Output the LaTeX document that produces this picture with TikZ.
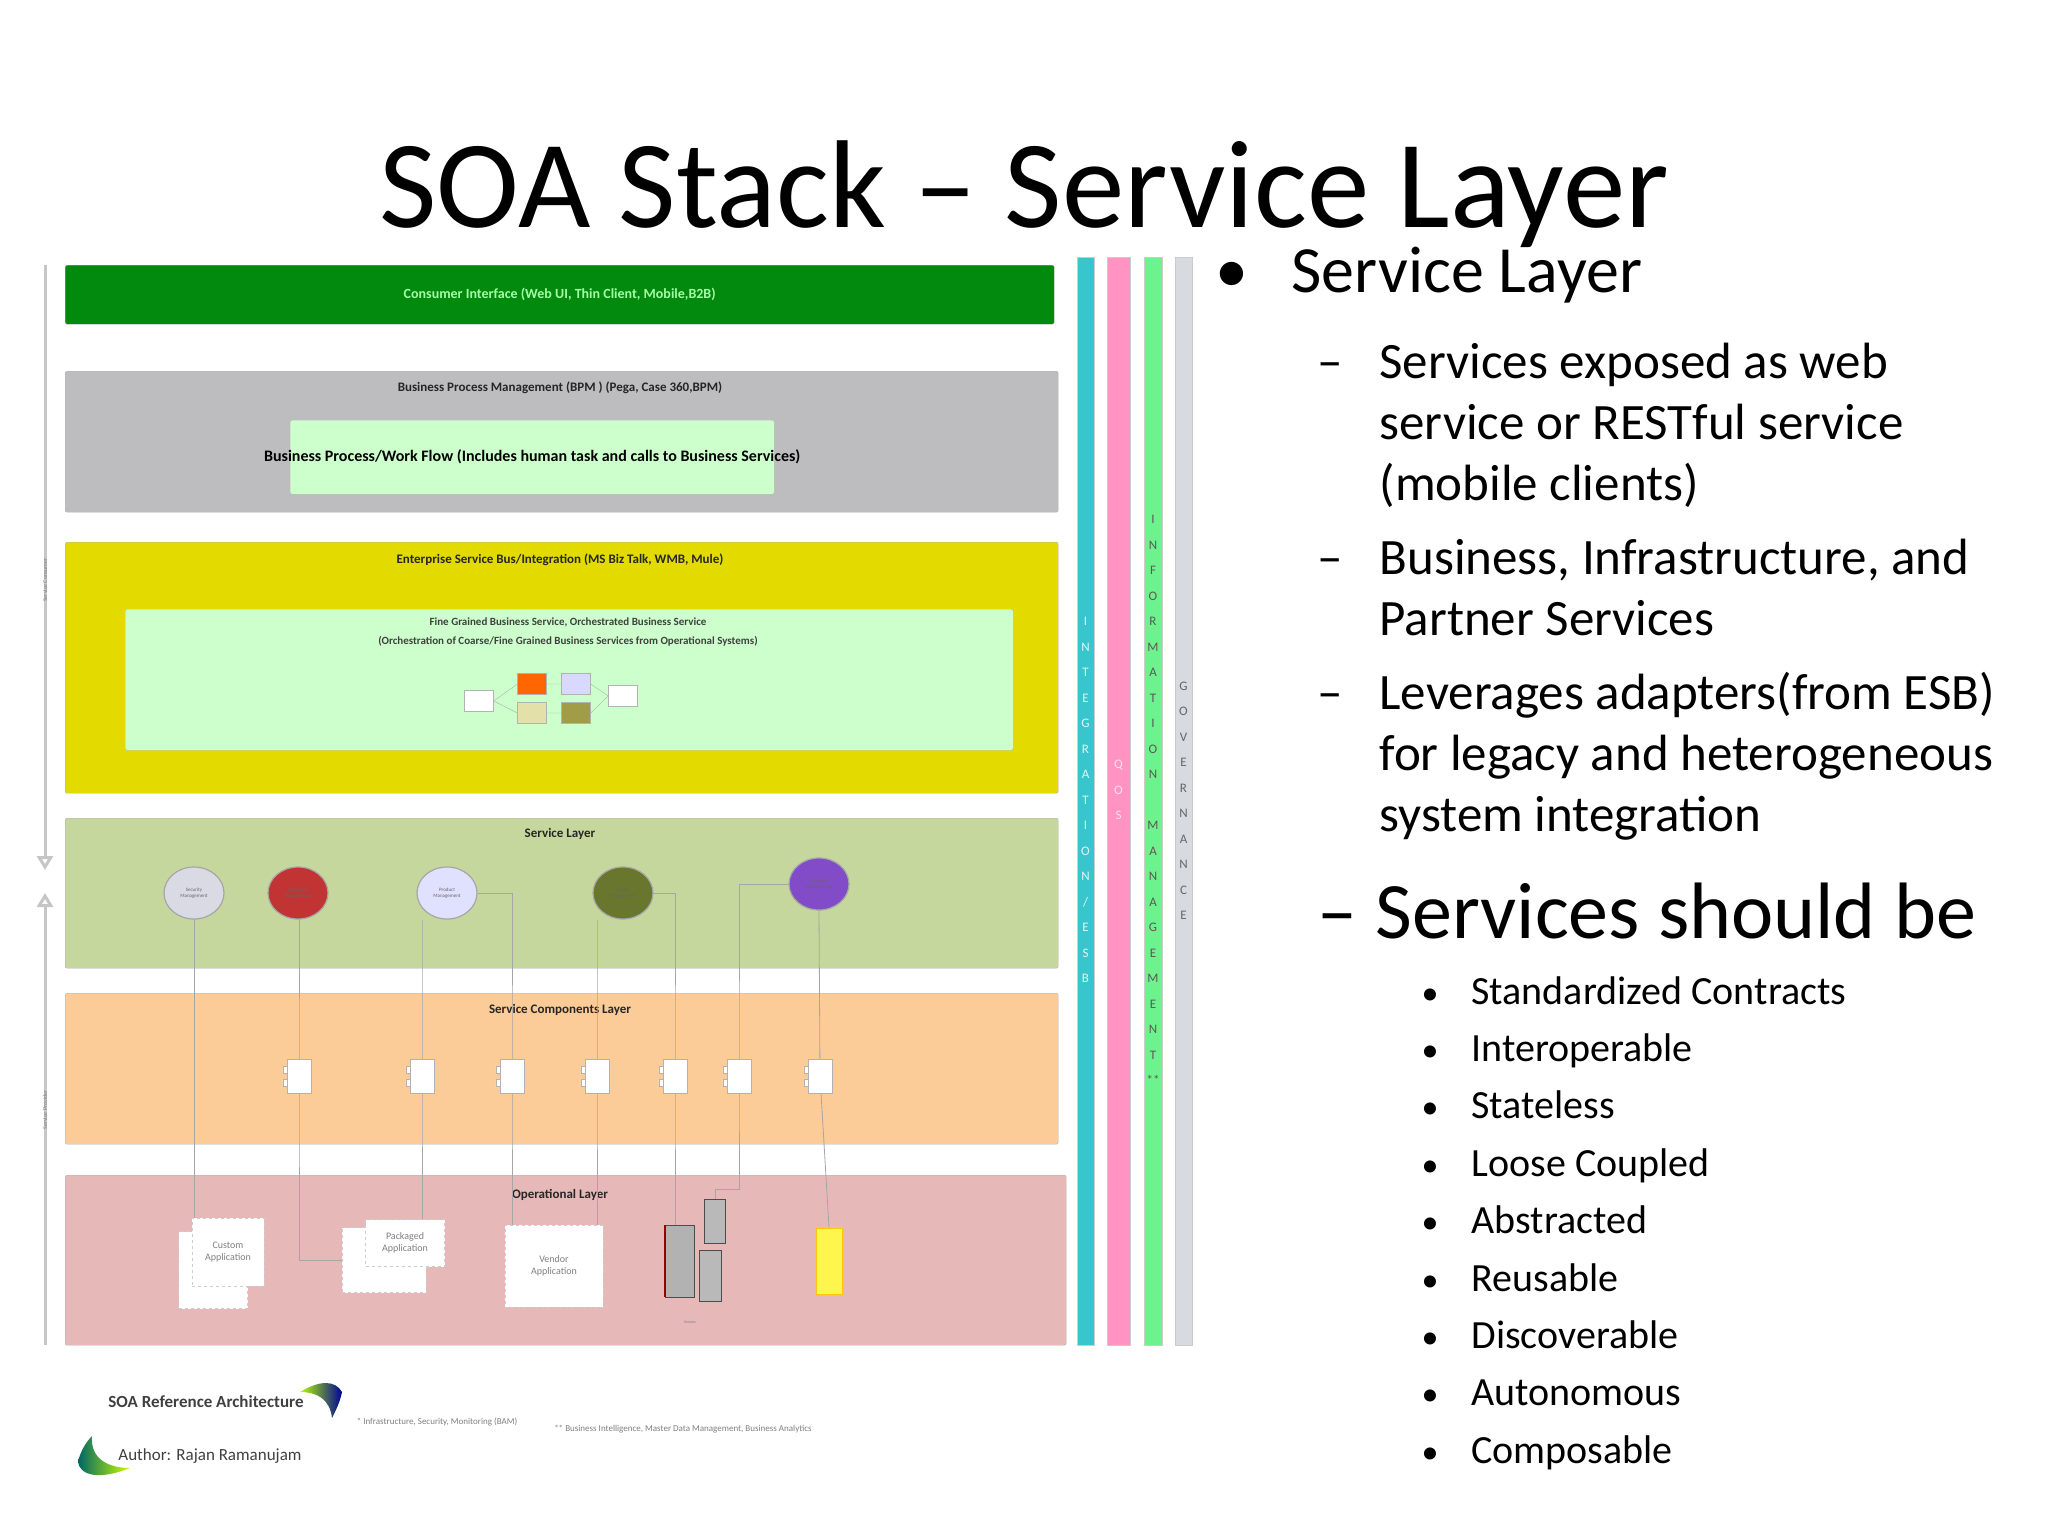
\documentclass[tikz,border=0pt]{standalone}
\usepackage{fontspec}
\setmainfont{Carlito}
\usetikzlibrary{positioning, shapes.geometric, arrows.meta}
\definecolor{ciGreen}{HTML}{028A0F}
\definecolor{bpmGray}{HTML}{BDBDBF}
\definecolor{paleGreen}{HTML}{CCFFCC}
\definecolor{esbYellow}{HTML}{E3DA00}
\definecolor{svcGreen}{HTML}{C6D79E}
\definecolor{compOrange}{HTML}{FBCB98}
\definecolor{opPink}{HTML}{E6B9B8}
\definecolor{barTeal}{HTML}{38C6CC}
\definecolor{barPink}{HTML}{FF93C2}
\definecolor{barGreen}{HTML}{6EF28E}
\definecolor{barGray}{HTML}{D9D9E0}
\tikzset{
  layer/.style={draw=gray!60, rounded corners=2pt, anchor=north west, inner sep=0pt}, % coloured band
  ttl/.style={font=\fontsize{13}{14}\selectfont\bfseries, text=black!85},
  inbox/.style={draw=gray!50, fill=paleGreen, rounded corners=2pt, anchor=north west, inner sep=0pt},
  svc/.style={ellipse, draw=gray!70, line width=1.2pt, minimum width=60pt, minimum height=52pt,
    align=center, font=\fontsize{5}{6}\selectfont, text=black!60},
  comp/.style={draw=gray!60, fill=white, minimum width=24pt, minimum height=34pt, inner sep=0pt,
    append after command={\pgfextra{\draw[gray!60, fill=white]
      ([xshift=-4pt,yshift=3pt]\tikzlastnode.west) rectangle ++(9pt,7pt)
      ([xshift=-4pt,yshift=-10pt]\tikzlastnode.west) rectangle ++(9pt,7pt);}}},
  app/.style={draw=gray!40, dashed, fill=white, align=center, inner sep=0pt,
    font=\fontsize{10}{12}\selectfont, text=black!50},
  srv/.style={draw=black!70, fill=gray!55, inner sep=0pt, minimum width=#1},
  bar/.style={draw=gray!40, anchor=north west, inner sep=0pt},
  vlab/.style={align=center, font=\fontsize{13}{25.5}\selectfont},
  link/.style={draw=gray!70, line width=0.8pt},
  flow/.style={draw=gray!60, minimum width=29pt, minimum height=21pt, inner sep=0pt},
}
\begin{document}
\begin{tikzpicture}[x=1pt, y=-1pt]
\useasboundingbox[fill=white] (0,0) rectangle (2048,1536);

% title
\node[font=\fontsize{125}{130}\selectfont] (title) at (1024,194) {SOA Stack -- Service Layer};

% layers
\node[layer, fill=ciGreen, minimum width=989pt, minimum height=59pt] (ci) at (65,265) {};
\node[text=paleGreen!80!green, font=\fontsize{14}{15}\selectfont\bfseries] (ciT) at (ci.center)
  {Consumer Interface (Web UI, Thin Client, Mobile,B2B)};
\node[layer, fill=bpmGray, minimum width=993pt, minimum height=141pt] (bpm) at (65,371) {};
\node[ttl] (bpmT) at (560,388) {Business Process Management (BPM ) (Pega, Case 360,BPM)};
\node[inbox, minimum width=484pt, minimum height=74pt] (bpw) at (290,420) {};
\node[font=\fontsize{16}{18}\selectfont\bfseries] (bpwT) at (bpw.center)
  {Business Process/Work Flow (Includes human task and calls to Business Services)};
\node[layer, fill=esbYellow, minimum width=993pt, minimum height=251pt] (esb) at (65,542) {};
\node[ttl] (esbT) at (560,560) {Enterprise Service Bus/Integration (MS Biz Talk, WMB, Mule)};
\node[inbox, minimum width=888pt, minimum height=141pt] (orc) at (125,609) {};
\node[align=center, font=\fontsize{11}{19}\selectfont\bfseries, text=black!75] (orcT) at (568,632)
  {Fine Grained Business Service, Orchestrated Business Service\\
   (Orchestration of Coarse/Fine Grained Business Services from Operational Systems)};
\node[layer, fill=svcGreen, minimum width=993pt, minimum height=150pt] (sl) at (65,818) {};
\node[ttl] (slT) at (560,834) {Service Layer};
\node[layer, fill=compOrange, minimum width=993pt, minimum height=151pt] (scl) at (65,993) {};
\node[ttl] (sclT) at (560,1010) {Service Components Layer};
\node[layer, fill=opPink, minimum width=1001pt, minimum height=170pt] (op) at (65,1175) {};
\node[ttl] (opT) at (560,1195) {Operational Layer};

% small orchestration flow
\node[flow, fill=white] (f1) at (479,701) {};
\node[flow, fill=orange!80!red] (f2) at (532,684) {};
\node[flow, fill=blue!15] (f3) at (576,684) {};
\node[flow, fill=olive!25] (f4) at (532,713) {};
\node[flow, fill=olive!80!black!70] (f5) at (576,713) {};
\node[flow, fill=white] (f6) at (623,696) {};
\draw[gray!60] (f1.east) -- (f2.west) (f1.east) -- (f4.west) (f2) -- (f3) (f4) -- (f5)
  (f3.east) -- (f6.west) (f5.east) -- (f6.west);

% services
\node[svc, fill=blue!15!gray!25] (sec) at (194,893) {Security\\Management};
\node[svc, fill=red!70!black!80] (cus) at (298,893) {Customer\\Management};
\node[svc, fill=blue!12] (pro) at (447,893) {Product\\Management};
\node[svc, fill=olive!70!green!70!black] (ord) at (623,893) {Order\\Management};
\node[svc, fill=violet!60!blue!70] (pay) at (819,884) {Payment\\Management};

% operational systems
\node[app, minimum width=69pt, minimum height=77pt] (custB) at (213,1270) {};
\node[app, minimum width=72pt, minimum height=68pt] (custF) at (228,1252) {Custom\\Application};
\node[app, minimum width=84pt, minimum height=65pt] (pkgB) at (384,1260) {};
\node[app, minimum width=79pt, minimum height=47pt] (pkgF) at (405,1243) {Packaged\\Application};
\node[app, minimum width=98pt, minimum height=82pt] (ven) at (554,1266) {Vendor\\Application};
\node[srv=29pt, minimum height=72pt, fill=gray!60] (srvA) at (680,1261) {};
\node[srv=21pt, minimum height=44pt] (srvB) at (715,1221) {};
\node[srv=22pt, minimum height=51pt] (srvC) at (710,1276) {};
\draw[red!60!black, line width=2pt] (srvA.north west) -- (srvA.south west);
\node[font=\fontsize{4}{5}\selectfont, text=gray] (srvL) at (690,1322) {Servers};
\node[cylinder, shape border rotate=90, aspect=0.4, draw=yellow!60!orange, fill=yellow!70,
  minimum width=26pt, minimum height=66pt, inner sep=0pt] (db) at (829,1261) {};

% links
\foreach \x [count=\i] in {299,422,512,597,675,739,820}
  \coordinate (c\i) at (\x,1076);
\coordinate (hook) at (739,1189);
\draw[link] (sec.south) -- (sec.south |- custF.north);
\draw[link] (c1 |- cus.south) -- (c1) |- (pkgB.west);
\draw[link] (c2 |- pro.south) -- (c2) -- (c2 |- pkgF.north);
\draw[link] (pro.east) -| (c3) -- (c3 |- ven.north);
\draw[link] (c4 |- ord.south) -- (c4) -- (c4 |- ven.north);
\draw[link] (ord.east) -| (c5) -- (c5 |- srvA.north);
\draw[link] (pay.west) -| (c6) -- (hook) -| (srvB.north);
\draw[link] (pay.south) -- (c7) -- (db.north);

% service components
\foreach \i in {1,...,7}
  \node[comp] (k\i) at (c\i) {};

% consumer / provider arrows
\coordinate (cTop) at (45,265);
\coordinate (cMid) at (45,870);
\coordinate (pMid) at (45,893);
\coordinate (pBot) at (45,1345);
\draw[-{Triangle[open, length=14pt, width=16pt]}, gray!45, line width=3pt] (cTop) -- (cMid);
\draw[-{Triangle[open, length=14pt, width=16pt]}, gray!45, line width=3pt] (pBot) -- (pMid);
\node[rotate=90, font=\fontsize{6}{7}\selectfont, text=gray] (consL) at (45,580) {Service Consumer};
\node[rotate=90, font=\fontsize{6}{7}\selectfont, text=gray] (provL) at (45,1110) {Service Provider};

% vertical bars
\node[bar, fill=barTeal, minimum width=17pt, minimum height=1088pt] (iBar) at (1077,257) {};
\node[bar, fill=barPink, minimum width=23pt, minimum height=1088pt] (qBar) at (1107,257) {};
\node[bar, fill=barGreen, minimum width=18pt, minimum height=1088pt] (mBar) at (1144,257) {};
\node[bar, fill=barGray, minimum width=17pt, minimum height=1088pt] (gBar) at (1175,257) {};
\node[vlab, text=white!85!barTeal] (iT) at (1085.5,800)
  {I\\N\\T\\E\\G\\R\\A\\T\\I\\O\\N\\/\\E\\S\\B};
\node[vlab, text=white!70!barPink] (qT) at (1118.5,790) {Q\\O\\S};
\node[vlab, text=black!65] (mT) at (1153,800)
  {I\\N\\F\\O\\R\\M\\A\\T\\I\\O\\N\\ \\M\\A\\N\\A\\G\\E\\M\\E\\N\\T\\**};
\node[vlab, text=black!60] (gT) at (1183.5,801) {G\\O\\V\\E\\R\\N\\A\\N\\C\\E};

% footer
\node[font=\fontsize{17}{18}\selectfont\bfseries, text=black!75] (refT) at (206,1402) {SOA Reference Architecture};
\node[font=\fontsize{17}{18}\selectfont, text=black!75] (authT) at (210,1456) {Author: Rajan Ramanujam};
\node[font=\fontsize{9}{10}\selectfont, text=gray] (fn1) at (437,1422) {* Infrastructure, Security, Monitoring (BAM)};
\node[font=\fontsize{9}{10}\selectfont, text=gray] (fn2) at (683,1429) {** Business Intelligence, Master Data Management, Business Analytics};
\shade[left color=yellow!70!green, right color=blue!60!black]
  (300,1392) .. controls (320,1380) and (335,1380) .. (342,1392)
  .. controls (340,1402) and (336,1410) .. (332,1418)
  .. controls (330,1400) and (318,1392) .. (300,1392);
\shade[left color=teal!80!black, right color=yellow!80!green]
  (130,1468) .. controls (100,1480) and (80,1476) .. (78,1462)
  .. controls (80,1452) and (86,1442) .. (92,1436)
  .. controls (90,1460) and (110,1468) .. (130,1468);

% right-hand text
\node[font=\fontsize{66}{68}\selectfont, anchor=base west] (bl1) at (1212,292) {\textbullet};
\node[font=\fontsize{66}{68}\selectfont, anchor=base west] (h1) at (1288,292) {Service Layer};
\begin{scope}[every node/.style={font=\fontsize{51}{61}\selectfont, anchor=north west, align=left}]
\node (d1) at (1314,332) {\strut--};
\node (t1) at (1376,332) {\strut Services exposed as web\\service or RESTful service\\(mobile clients)};
\node (d2) at (1314,528) {\strut--};
\node (t2) at (1376,528) {\strut Business, Infrastructure, and\\Partner Services};
\node (d3) at (1314,663) {\strut--};
\node (t3) at (1376,663) {\strut Leverages adapters(from ESB)\\for legacy and heterogeneous\\system integration};
\end{scope}
\node[font=\fontsize{80}{82}\selectfont, anchor=base west] (h2) at (1314,938) {-- Services should be};
\foreach \t [count=\i] in {Standardized Contracts, Interoperable, Stateless, Loose Coupled,
  Abstracted, Reusable, Discoverable, Autonomous, Composable} {
  \node[font=\fontsize{34}{39}\selectfont, anchor=base west] (b\i) at (1418,1004+57.4*\i-57.4) {\textbullet};
  \node[font=\fontsize{40}{42}\selectfont, anchor=base west] (s\i) at (1468,1004+57.4*\i-57.4) {\t};
}
\end{tikzpicture}
\end{document}
